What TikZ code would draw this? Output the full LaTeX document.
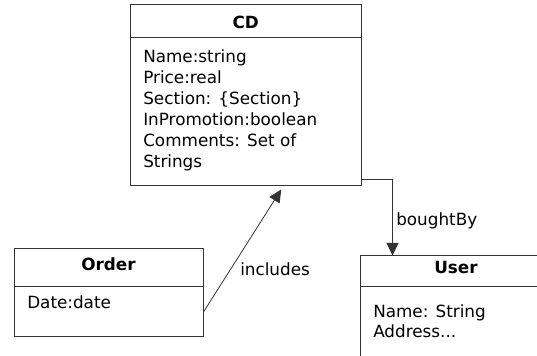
\documentclass[tikz,border=0pt]{standalone}
\usepackage{fontspec}
\setmainfont{DejaVu Sans}
\usetikzlibrary{arrows.meta}

\begin{document}
\begin{tikzpicture}[x=0.75pt,y=0.75pt,
  font=\fontsize{12.6}{15}\selectfont,
  classbox/.style={draw=black!80, line width=0.75pt, inner sep=0pt},
  divider/.style={draw=black!80, line width=0.75pt},
  classname/.style={font=\fontsize{12.6}{15}\selectfont\bfseries},
  attr/.style={anchor=base west, inner sep=0pt},
  assoc/.style={draw=black!80, line width=0.6pt, -{Triangle[length=9.5pt,width=9pt]}}]

\useasboundingbox (0,0) rectangle (537,356);
\clip (0,0) rectangle (537,356);

% CD
\node[classbox, minimum width=173.25pt, minimum height=135.75pt] (cd) at (245.75,260.5) {};
\draw[divider] (cd.west |- 0,318) -- (cd.east |- 0,318);
\node[classname] (cdname) at (245.75,334) {CD};
\node[attr] (cdA) at (143,293) {Name:string};
\node[attr] (cdB) at (143,272) {Price:real};
\node[attr] (cdC) at (143,251) {Section: \{Section\}};
\node[attr] (cdD) at (143,230) {InPromotion:boolean};
\node[attr] (cdE) at (143,209) {Comments: Set of};
\node[attr] (cdF) at (143,188) {Strings};

% Order
\node[classbox, minimum width=141.75pt, minimum height=66pt] (order) at (108.5,63) {};
\draw[divider] (order.west |- 0,69) -- (order.east |- 0,69);
\node[classname] (ordername) at (108.5,92) {Order};
\node[attr] (orderA) at (27,47) {Date:date};

% User
\node[classbox, minimum width=144pt, minimum height=97.5pt] (user) at (456,35) {};
\draw[divider] (user.west |- 0,69) -- (user.east |- 0,69);
\node[classname] (username) at (456,88) {User};
\node[attr] (userA) at (373,38) {Name: String};
\node[attr] (userB) at (373,18) {Address...};

% associations
\draw[assoc] ([yshift=5.25pt]cd.south east) -| ([xshift=24.75pt]user.north west);
\node[attr] (bought) at (396,130) {boughtBy};
\draw[assoc] ([yshift=-14.25pt]order.east) -- ([xshift=26.6pt,yshift=-2.25pt]cd.south);
\node[attr] (incl) at (240,80) {includes};
\end{tikzpicture}
\end{document}
